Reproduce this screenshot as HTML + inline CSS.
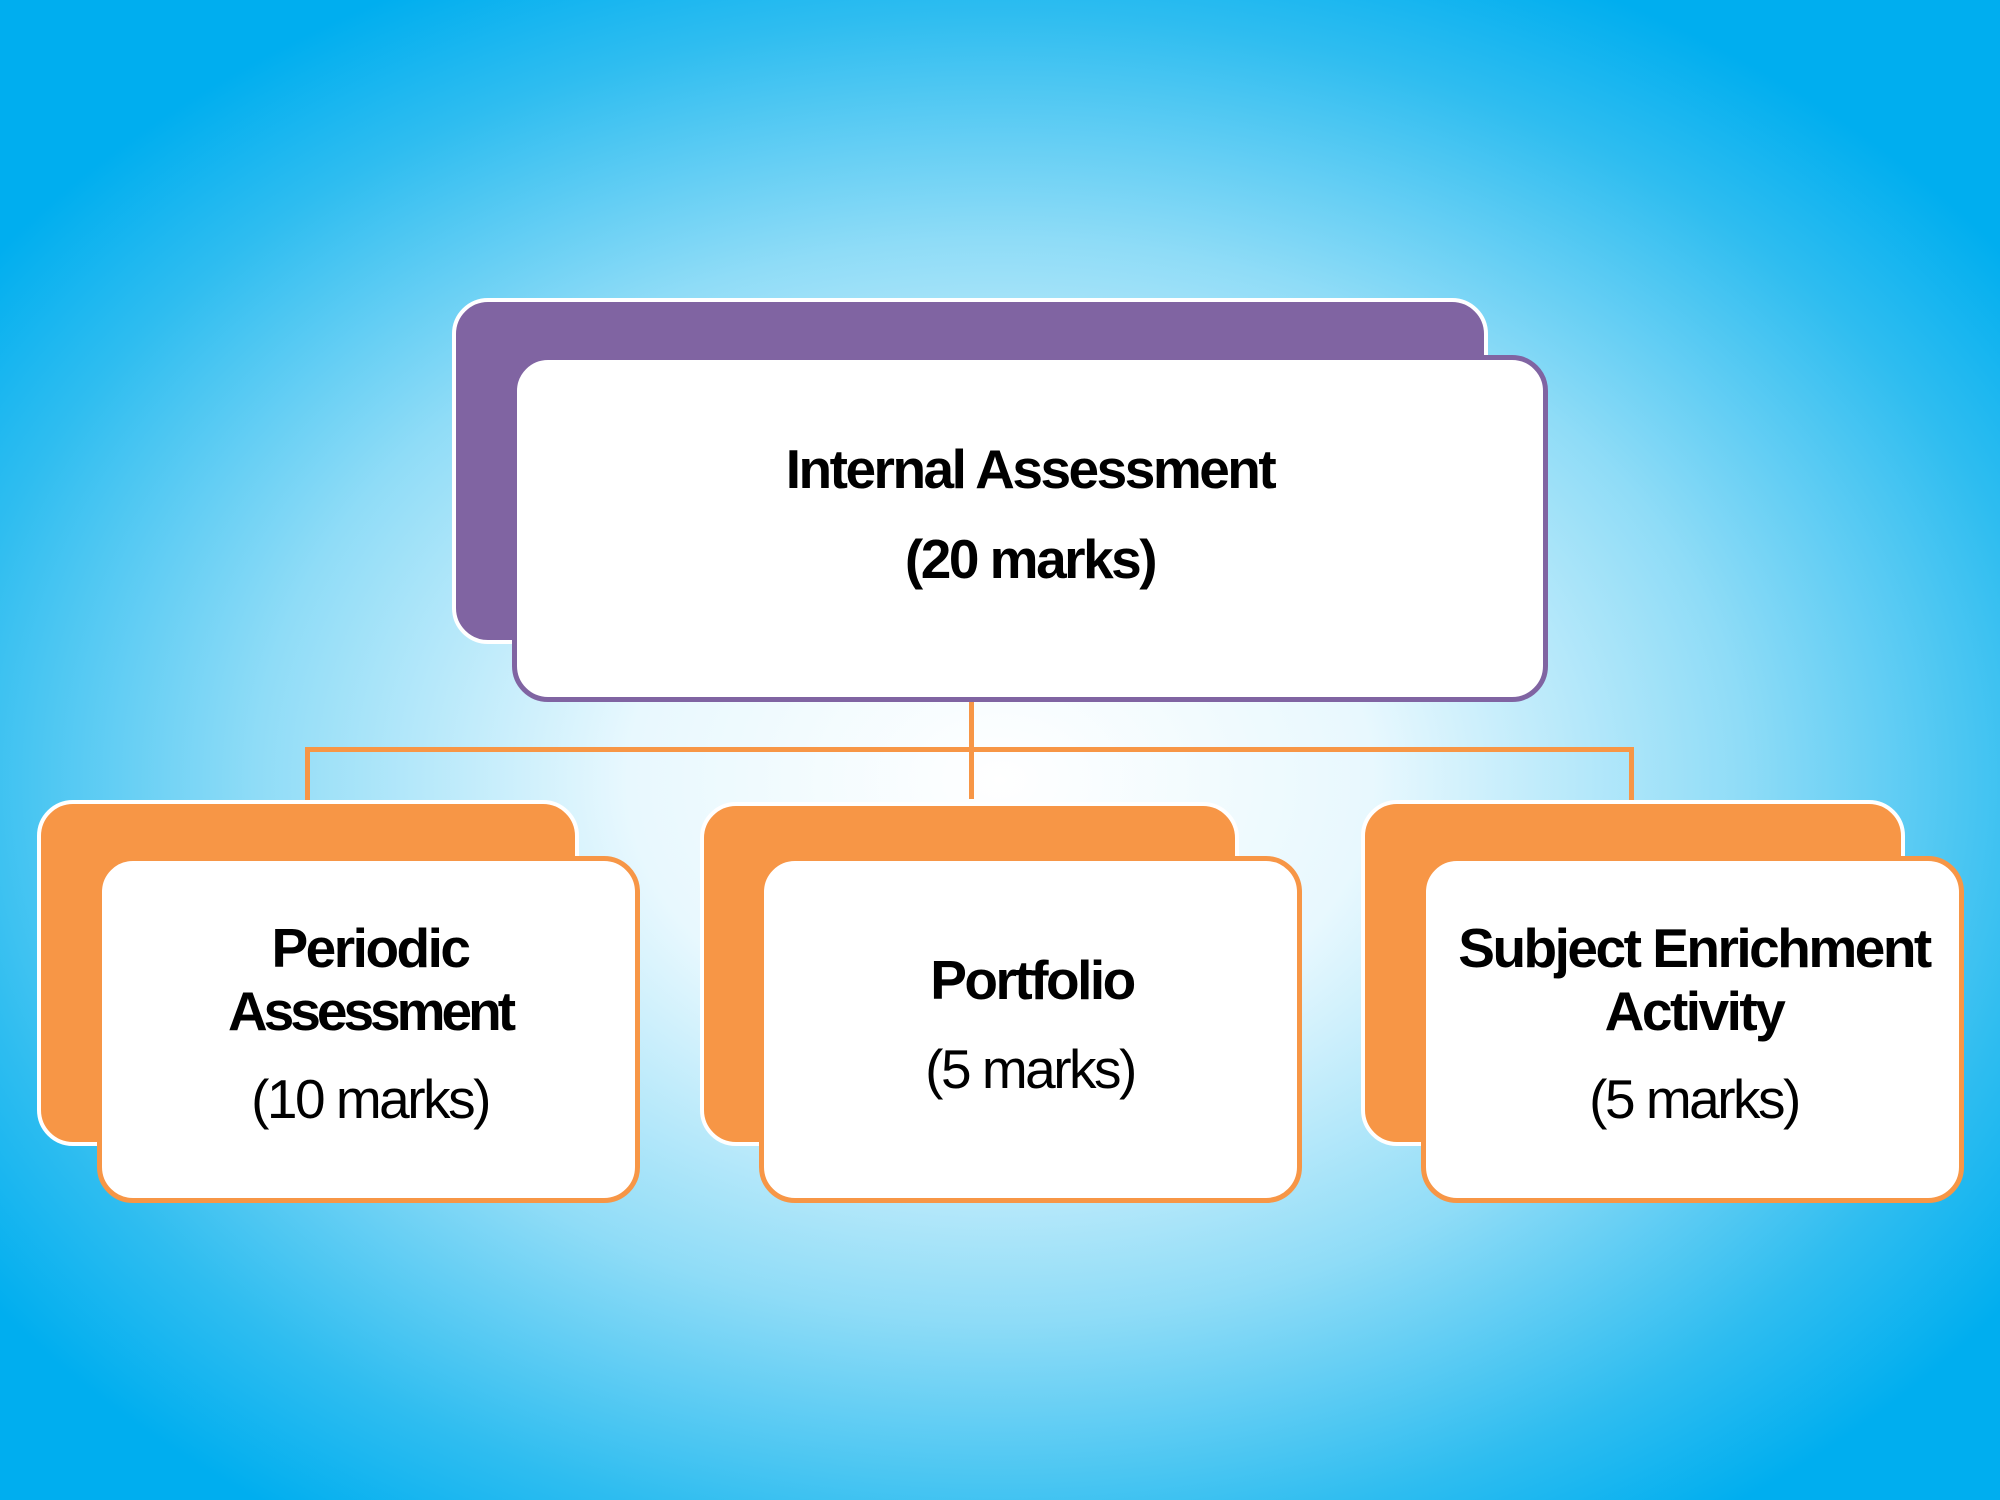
<!DOCTYPE html>
<html><head><style>
html,body{margin:0;padding:0;}
body{width:2000px;height:1500px;position:relative;overflow:hidden;font-family:"Liberation Sans",sans-serif;
background:radial-gradient(ellipse 62% 60% at 50% 52%, #ffffff 0%, #e8f8fe 30%, #8fdcf7 60%, #2fbdf0 85%, #00aeef 100%);}
.b{position:absolute;box-sizing:border-box;border-radius:36px;}
.back{border:4px solid #fff;}
.front{background:#fff;border:5px solid;}
.t{position:absolute;text-align:center;color:#000;letter-spacing:-2.5px;white-space:nowrap;transform:translate(-50%,-50%);font-size:55px;}
.bold{font-weight:bold;}
.ln{position:absolute;background:#f79646;}
</style></head><body>
<div class="b back" style="left:452px;top:298px;width:1036px;height:346px;background:#8064a2;"></div>
<div class="b front" style="left:512px;top:355px;width:1036px;height:347px;border-color:#8064a2;"></div>
<div class="t bold" style="left:1030px;top:469px;">Internal Assessment</div>
<div class="t bold" style="left:1030px;top:559px;">(20 marks)</div>

<div class="ln" style="left:969px;top:702px;width:5px;height:97px;"></div>
<div class="ln" style="left:305px;top:747px;width:1329px;height:5px;"></div>
<div class="ln" style="left:305px;top:747px;width:5px;height:55px;"></div>
<div class="ln" style="left:1629px;top:747px;width:5px;height:55px;"></div>

<div class="b back" style="left:37px;top:800px;width:542px;height:346px;background:#f79646;"></div>
<div class="b front" style="left:97px;top:856px;width:543px;height:347px;border-color:#f79646;"></div>
<div class="t bold" style="left:370px;top:948px;">Periodic</div>
<div class="t bold" style="left:370px;top:1011px;letter-spacing:-4px;">Assessment</div>
<div class="t" style="left:370px;top:1099px;">(10 marks)</div>

<div class="b back" style="left:700px;top:802px;width:539px;height:344px;background:#f79646;"></div>
<div class="b front" style="left:759px;top:856px;width:543px;height:347px;border-color:#f79646;"></div>
<div class="t bold" style="left:1032px;top:980px;">Portfolio</div>
<div class="t" style="left:1030px;top:1069px;">(5 marks)</div>

<div class="b back" style="left:1361px;top:800px;width:544px;height:346px;background:#f79646;"></div>
<div class="b front" style="left:1421px;top:856px;width:543px;height:347px;border-color:#f79646;"></div>
<div class="t bold" style="left:1694px;top:948px;">Subject Enrichment</div>
<div class="t bold" style="left:1694px;top:1011px;">Activity</div>
<div class="t" style="left:1694px;top:1099px;">(5 marks)</div>
</body></html>
